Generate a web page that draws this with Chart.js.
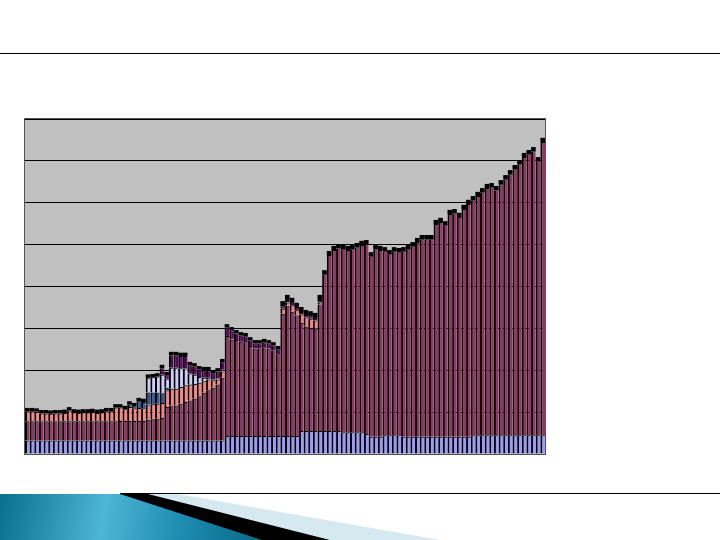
<!DOCTYPE html>
<html><head><meta charset="utf-8">
<script src="https://cdn.jsdelivr.net/npm/chart.js@4"></script>
<style>html,body{margin:0;padding:0;background:#fff;}#wrap{position:relative;width:720px;height:540px;}</style>
</head><body><div id="wrap"><canvas id="c" width="720" height="540"></canvas></div>
<script>
// 112 periods
const categories = [];
for (let i = 1; i <= 112; i++) categories.push(String(i));

const seriesBlue = [
3.2,3.2,3.2,3.2,3.2,3.2,3.2,3.2,3.2,3.2,3.2,3.2,3.2,3.2,3.2,3.2,3.2,3.2,3.2,3.2,
3.2,3.2,3.2,3.2,3.2,3.2,3.2,3.2,3.2,3.2,3.2,3.2,3.2,3.2,3.2,3.2,3.2,3.2,3.2,3.2,
3.2,3.2,3.2,
4.3,4.3,4.3,4.3,4.3,4.3,4.3,4.3,4.3,4.3,4.3,4.3,4.3,4.3,4.3,4.3,
5.5,5.5,5.5,5.5,5.5,5.5,5.5,5.5,5.5,
5.2,5.2,5.2,5.2,5.2,
4.8,
4.1,4.1,4.1,
4.5,4.5,4.5,4.5,
4.1,4.1,4.1,4.1,4.1,4.1,4.1,4.1,4.1,4.1,4.1,4.1,4.1,4.1,4.1,
4.5,4.5,4.5,4.5,4.5,4.5,4.5,4.5,4.5,4.5,4.5,4.5,4.5,4.5,4.5,4.5];

const seriesMaroon = [
4.6,4.6,4.6,4.6,4.6,4.6,4.6,4.6,4.6,4.6,4.6,4.6,4.6,4.6,4.6,4.6,4.6,4.6,4.6,4.6,
4.7,4.7,4.7,4.7,4.7,4.7,
5.0,5.1,5.2,5.4,8.0,
8.4,8.4,8.8,9.2,9.6,10.0,10.6,11.4,12.0,12.6,13.4,15.0,
23.9,23.0,22.9,22.5,22.4,21.5,20.9,20.9,21.2,20.9,20.4,19.5,
29.2,31.1,29.7,28.8,25.8,24.9,24.6,24.4,30.2,
37.4,42.0,43.2,43.6,43.7,43.5,43.7,44.2,44.7,45.3,43.1,44.8,44.6,43.9,43.2,43.9,
43.7,44.3,44.8,45.5,46.5,47.2,47.2,47.2,50.8,51.3,50.5,53.2,53.4,52.5,54.4,55.6,
56.1,57.1,58.0,59.0,59.2,58.5,59.9,61.1,62.3,63.5,64.7,66.4,67.1,67.8,65.4,70.0];

const seriesSalmon = [
2.4,2.4,2.3,1.9,1.9,1.8,1.9,1.9,2.0,2.6,2.1,2.0,2.1,2.1,2.2,2.0,2.1,2.4,2.4,3.3,
3.2,2.8,3.3,3.0,3.1,3.0,
3.6,3.6,3.6,3.6,4.0,
4.0,4.0,4.0,4.0,3.8,3.5,3.2,2.8,2.6,1.8,1.2,1.5,
0,0.4,0,0,0,0,0,0,0,0,0,0,
1.2,0.8,1.5,1.2,2.0,2.2,2.2,2.0,0.5,
0,0,0,0,0,0,0,0,0,0,0,0,0,0,0,0,
0,0,0,0,0,0,0,0,0,0,0,0,0,0,0,0,
0,0,0,0,0,0,0,0,0,0,0,0,0,0,0,0];

const seriesNavy = [
0,0,0,0,0,0,0,0,0,0,0,0,0,0,0,0,0,0,0,0,
0,0,0.6,0.5,1.6,1.5,
2.9,2.8,2.6,2.3,0.6,
0,0,0,0,0,0,0,0,0,0,0,0,
0,0,0,0,0,0,0,0,0,0,0,0,
0,0,0,0,0,0,0,0,0,
0,0,0,0,0,0,0,0,0,0,0,0,0,0,0,0,
0,0,0,0,0,0,0,0,0,0,0,0,0,0,0,0,
0,0,0,0,0,0,0,0,0,0,0,0,0,0,0,0];

const seriesLavender = [
0,0,0,0,0,0,0,0,0,0,0,0,0,0,0,0,0,0,0,0,
0,0,0,0,0,0,
3.5,3.6,3.9,4.4,2.2,
5.0,5.0,4.5,4.0,2.6,2.2,1.4,0.8,0.4,0.2,0.3,0.4,
0,0,0,0,0,0,0,0,0,0,0,0,
0,0,0,0,0,0,0,0,0,
0,0,0,0,0,0,0,0,0,0,0,0,0,0,0,0,
0,0,0,0,0,0,0,0,0,0,0,0,0,0,0,0,
0,0,0,0,0,0,0,0,0,0,0,0,0,0,0,0];

const seriesPurple = [
0,0,0,0,0,0,0,0,0,0,0,0,0,0,0,0,0,0,0,0,
0,0,0,0,0,0,
0,0,0,1.6,0.8,
3.0,3.0,2.9,3.0,2.0,2.0,1.8,1.8,1.8,1.4,1.6,1.8,
2.0,1.8,1.6,1.5,1.4,1.3,1.2,1.2,1.2,1.2,1.2,1.2,
0.6,0.6,0.6,0.6,0.6,0.6,0.6,0.6,0.6,
0,0,0,0,0,0,0,0,0,0,0,0,0,0,0,0,
0,0,0,0,0,0,0,0,0,0,0,0,0,0,0,0,
0,0,0,0,0,0,0,0,0,0,0,0,0,0,0,0];

const seriesBlack = [
0.8,0.8,0.8,0.8,0.8,0.8,0.8,0.8,0.8,0.8,0.8,0.8,0.8,0.8,0.8,0.8,0.8,0.8,0.8,0.8,
0.8,0.8,0.8,0.8,0.8,0.8,
0.8,0.8,0.8,0.8,0.8,
0.8,0.8,0.8,0.8,0.8,0.8,0.8,0.8,0.8,0.8,0.8,0.8,
0.8,0.8,0.8,0.8,0.8,0.8,0.8,0.8,0.8,0.8,0.8,0.8,
1.2,1.2,1.2,1.2,1.2,1.2,1.2,1.2,1.2,
1.0,1.0,1.0,1.0,1.0,1.0,1.0,1.0,1.0,1.0,1.0,1.0,1.0,1.0,1.0,1.0,
1.0,1.0,1.0,1.0,1.0,1.0,1.0,1.0,1.0,1.0,1.0,1.0,1.0,1.0,1.0,1.0,
1.0,1.0,1.0,1.0,1.0,1.0,1.0,1.0,1.0,1.0,1.0,1.0,1.0,1.0,1.0,1.0];

const yTicks = [0,10,20,30,40,50,60,70,80];

function ds(label, data, color, bw) {
  return {
    label, data, backgroundColor: color, borderColor: '#000000',
    borderWidth: bw, borderSkipped: false, inflateAmount: 0,
    barPercentage: 1, categoryPercentage: 1
  };
}
const edge = {top: 1, left: 2, right: 0, bottom: 0};

const deco = {
  id: 'deco',
  beforeDraw(chart) {
    const ctx = chart.ctx, a = chart.chartArea;
    ctx.save();
    ctx.fillStyle = '#fff';
    ctx.fillRect(0, 0, chart.width, chart.height);
    ctx.fillStyle = '#C0C0C0';
    ctx.fillRect(a.left, a.top, a.right - a.left, a.bottom - a.top);
    ctx.restore();
  },
  afterDraw(chart) {
    const ctx = chart.ctx, a = chart.chartArea;
    ctx.save();
    ctx.strokeStyle = '#555';
    ctx.lineWidth = 1;
    ctx.strokeRect(Math.round(a.left) - 0.5, Math.round(a.top) - 0.5,
      Math.round(a.right - a.left) + 1, Math.round(a.bottom - a.top) + 1);
    // slide rules
    ctx.strokeStyle = '#000';
    ctx.beginPath(); ctx.moveTo(0, 53.5); ctx.lineTo(720, 53.5); ctx.stroke();
    ctx.beginPath(); ctx.moveTo(120, 493.5); ctx.lineTo(720, 493.5); ctx.stroke();
    // light band
    ctx.fillStyle = '#D6E9F0';
    ctx.beginPath(); ctx.moveTo(140, 494); ctx.lineTo(178, 494); ctx.lineTo(440, 540); ctx.lineTo(320, 540); ctx.closePath(); ctx.fill();
    // teal gradient block
    const g = ctx.createLinearGradient(0, 494, 260, 540);
    g.addColorStop(0, '#0B6F8F');
    g.addColorStop(0.4, '#4DB5D5');
    g.addColorStop(0.7, '#1C8CB0');
    g.addColorStop(1, '#0A6A88');
    ctx.fillStyle = g;
    ctx.beginPath(); ctx.moveTo(0, 494); ctx.lineTo(122, 494); ctx.lineTo(265, 540); ctx.lineTo(0, 540); ctx.closePath(); ctx.fill();
    // black stripe
    ctx.fillStyle = '#000';
    ctx.beginPath(); ctx.moveTo(120, 494); ctx.lineTo(148, 494); ctx.lineTo(330, 540); ctx.lineTo(262, 540); ctx.closePath(); ctx.fill();
    ctx.restore();
  }
};

new Chart(document.getElementById('c'), {
  type: 'bar',
  data: {
    labels: categories,
    datasets: [
      ds('A', seriesBlue, '#9999FF', edge),
      ds('B', seriesMaroon, '#993366', edge),
      ds('C', seriesSalmon, '#FF8080', edge),
      ds('D', seriesNavy, '#2A5C9C', edge),
      ds('E', seriesLavender, '#CCCCFF', edge),
      ds('F', seriesPurple, '#660066', edge),
      ds('G', seriesBlack, '#000000', 0)
    ]
  },
  options: {
    responsive: false, animation: false,
    layout: {padding: {left: 25, top: 119, right: 175, bottom: 86}},
    plugins: {legend: {display: false}, tooltip: {enabled: false}},
    scales: {
      x: {stacked: true, display: false},
      y: {
        stacked: true, min: 0, max: 80,
        afterBuildTicks(scale) { scale.ticks = yTicks.map(v => ({value: v})); },
        ticks: {display: false},
        grid: {color: '#000', lineWidth: 1, drawTicks: false},
        border: {display: false}
      }
    }
  },
  plugins: [deco]
});
</script></body></html>
